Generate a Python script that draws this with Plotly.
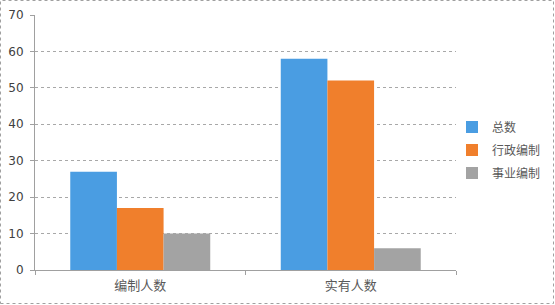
import plotly.graph_objects as go

categories = ["编制人数", "实有人数"]
series_names = ["总数", "行政编制", "事业编制"]
values_total = [27, 58]
values_admin = [17, 52]
values_inst = [10, 6]
colors = ["#4a9de2", "#f07f2c", "#a3a3a3"]

W, H = 555, 305
ml, mr, mt, mb = 35, 99, 15, 35
pw, ph = W - ml - mr, H - mt - mb

fig = go.Figure()
for name, vals, c in zip(series_names, [values_total, values_admin, values_inst], colors):
    fig.add_trace(go.Bar(
        x=categories, y=vals, name=name, legendgroup=name,
        marker=dict(color=c, line=dict(width=0)),
    ))

fig.update_layout(
    width=W, height=H,
    margin=dict(l=ml, r=mr, t=mt, b=mb, autoexpand=False),
    paper_bgcolor="white", plot_bgcolor="white",
    barmode="group", bargap=0.335, bargroupgap=0,
    font=dict(family="Noto Sans CJK SC, DejaVu Sans, sans-serif", color="#595959"),
    showlegend=True,
    legend=dict(
        x=(452 - ml) / pw, y=(H - mb - 150) / ph, xanchor="left", yanchor="middle",
        font=dict(size=12, color="#595959"),
        traceorder="grouped", tracegroupgap=4,
        itemwidth=30, bgcolor="rgba(0,0,0,0)",
    ),
    xaxis=dict(
        showgrid=False, showline=True, linecolor="#a0a0a0", linewidth=1,
        ticks="outside", tickson="boundaries", ticklen=4, tickcolor="#a0a0a0",
        tickfont=dict(size=13, color="#595959"), ticklabelstandoff=3,
        fixedrange=True, automargin=False,
    ),
    yaxis=dict(
        range=[0, 70], dtick=10, tick0=0,
        showgrid=True, gridcolor="#a8a8a8", griddash="dot", gridwidth=1,
        showline=True, linecolor="#a0a0a0", linewidth=1,
        ticks="outside", ticklen=4, tickcolor="#a0a0a0",
        tickfont=dict(size=12, family="DejaVu Sans, sans-serif", color="#404040"),
        ticklabelstandoff=4,
        zeroline=False, automargin=False,
    ),
    shapes=[dict(
        type="rect", xref="paper", yref="paper",
        x0=(0.5 - ml) / pw, x1=(W - 1.5 - ml) / pw,
        y0=(H - mb - (H - 1.5)) / ph, y1=(H - mb - 0.5) / ph,
        line=dict(color="#a0a0a0", width=1, dash="dot"),
    )],
)

fig.write_html("out.html")
